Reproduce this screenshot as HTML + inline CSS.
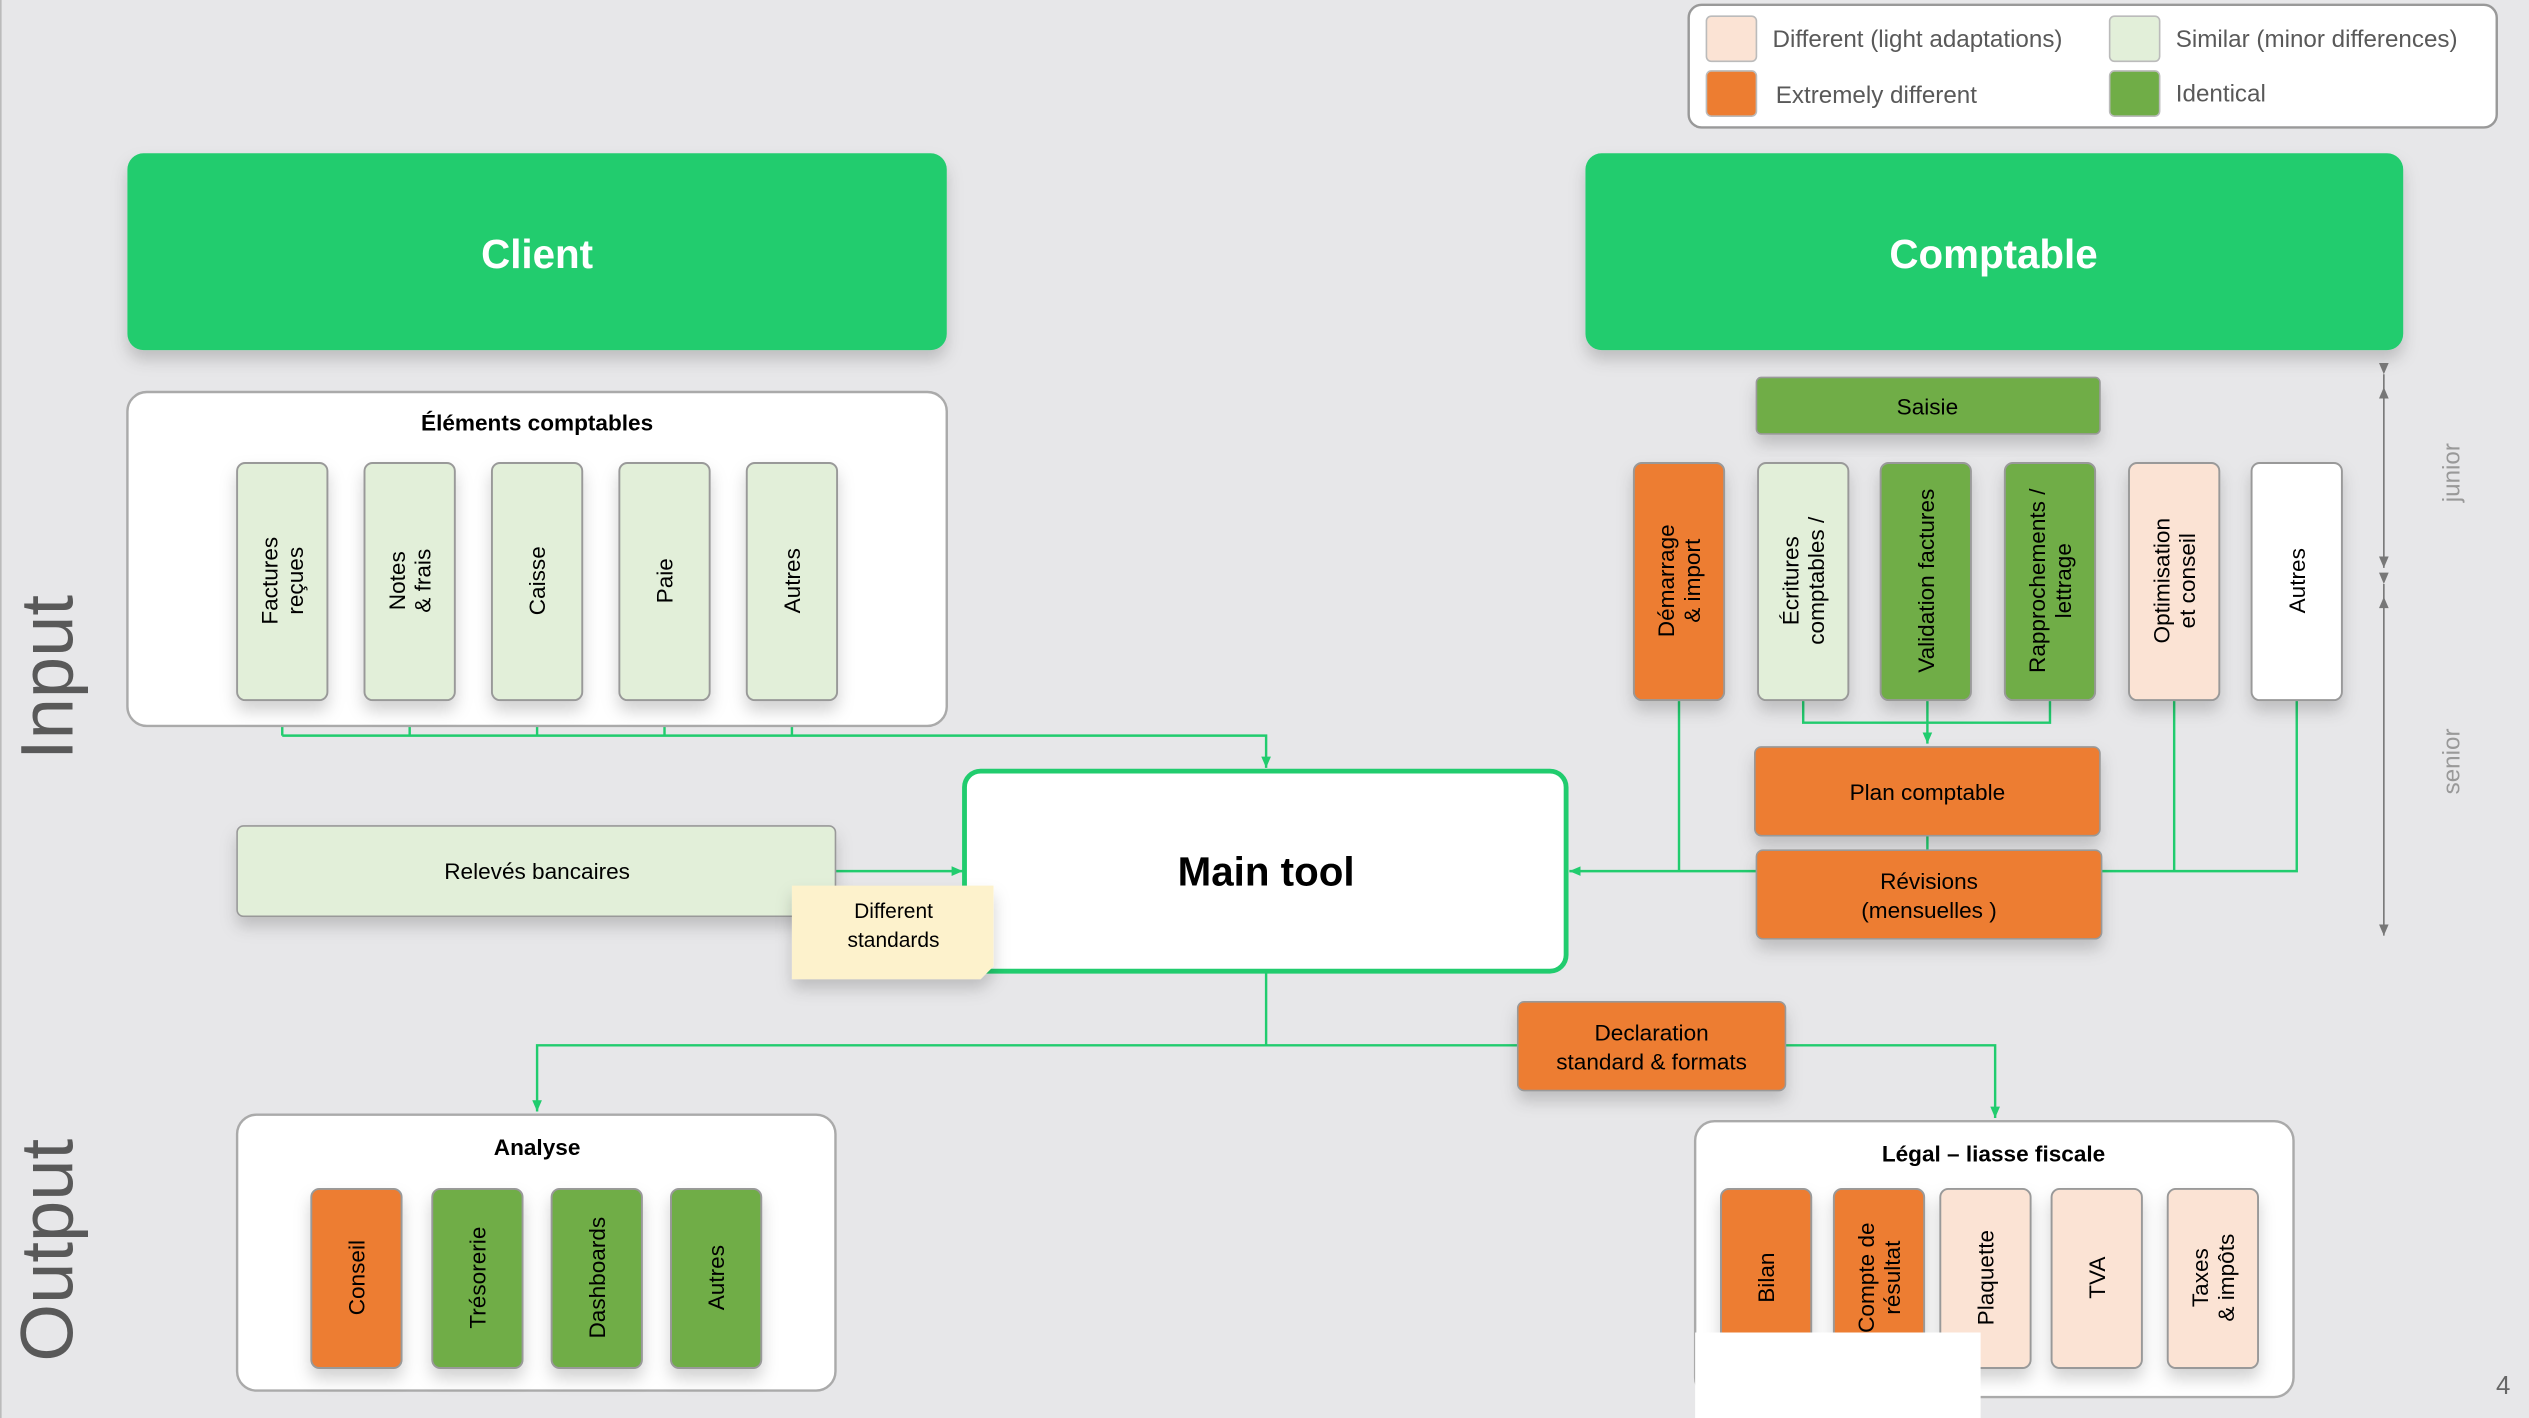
<!DOCTYPE html>
<html><head><meta charset="utf-8"><style>
html,body{margin:0;padding:0;background:#e7e7e9;}
svg{display:block;font-family:"Liberation Sans",sans-serif;}
</style></head><body>
<svg width="2529" height="1418" viewBox="0 0 1568 879" preserveAspectRatio="none" xmlns="http://www.w3.org/2000/svg">
<defs>
<filter id="sh" x="-20%" y="-20%" width="140%" height="160%"><feDropShadow dx="0" dy="6" stdDeviation="5" flood-color="#000" flood-opacity="0.18"/></filter>
<marker id="ar" markerWidth="8" markerHeight="8" refX="7" refY="4" orient="auto" markerUnits="userSpaceOnUse"><path d="M0,1 L7,4 L0,7 z" fill="#21cc6e"/></marker>
<marker id="ag" markerWidth="8" markerHeight="8" refX="7" refY="4" orient="auto" markerUnits="userSpaceOnUse"><path d="M0,1 L7,4 L0,7 z" fill="#777"/></marker>
</defs>
<rect x="0" y="0" width="1568" height="879" fill="#e7e7e9"/>
<line x1="0.5" y1="0" x2="0.5" y2="879" stroke="#bbb"/>

<!-- legend -->
<rect x="1047" y="3" width="501" height="76" rx="8" fill="#fff" stroke="#999" stroke-width="1.5"/>
<rect x="1058" y="10" width="31" height="28" rx="3" fill="#fbe3d4" stroke="#bbb"/>
<rect x="1308" y="10" width="31" height="28" rx="3" fill="#e2efd9" stroke="#bbb"/>
<rect x="1058" y="44" width="31" height="28" rx="3" fill="#ed7d31" stroke="#bbb"/>
<rect x="1308" y="44" width="31" height="28" rx="3" fill="#70ad47" stroke="#bbb"/>
<g fill="#595959" font-size="15">
<text x="1099" y="29">Different (light adaptations)</text>
<text x="1349" y="29">Similar (minor differences)</text>
<text x="1101" y="64">Extremely different</text>
<text x="1349" y="63">Identical</text>
</g>

<!-- headers -->
<rect x="79" y="95" width="508" height="122" rx="10" fill="#21cc6e" filter="url(#sh)"/>
<text x="333" y="166" font-size="25" font-weight="bold" fill="#fff" text-anchor="middle">Client</text>
<rect x="983" y="95" width="507" height="122" rx="10" fill="#21cc6e" filter="url(#sh)"/>
<text x="1236" y="166" font-size="25" font-weight="bold" fill="#fff" text-anchor="middle">Comptable</text>

<!-- side labels -->
<text transform="translate(45,420) rotate(-90)" font-size="46" fill="#595959" text-anchor="middle">Input</text>
<text transform="translate(45,775) rotate(-90)" font-size="46" fill="#595959" text-anchor="middle">Output</text>
<text transform="translate(1525,293) rotate(-90)" font-size="15" fill="#999" text-anchor="middle">junior</text>
<text transform="translate(1525,472) rotate(-90)" font-size="15" fill="#999" text-anchor="middle">senior</text>
<line x1="1478" y1="232" x2="1478" y2="352" stroke="#777" marker-start="url(#ag)" marker-end="url(#ag)"/>
<line x1="1478" y1="362" x2="1478" y2="580" stroke="#777" marker-start="url(#ag)" marker-end="url(#ag)"/>
<path d="M1478,240 L1475,247 L1481,247z M1478,370 L1475,377 L1481,377z" fill="#777"/>

<!-- connectors -->
<g stroke="#21cc6e" stroke-width="1.5" fill="none">
<path d="M175,434 V456 M254,434 V456 M333,434 V456 M412,434 V456 M491,434 V456 M175,456 H785 V476" marker-end="url(#ar)"/>
<path d="M518,540 H597" marker-end="url(#ar)"/>
<path d="M1118,434 V448 H1271 V434 M1195,434 V461" marker-end="url(#ar)"/>
<path d="M1195,518 V527"/>
<path d="M1041,434 V540 M1089,540 H973" marker-end="url(#ar)"/>
<path d="M1303,540 H1424 V434 M1348,434 V540"/>
<path d="M785,602 V648 H333 V689" marker-end="url(#ar)"/>
<path d="M785,648 H1237 V693" marker-end="url(#ar)"/>
</g>

<!-- elements comptables -->
<rect x="79" y="243" width="508" height="207" rx="12" fill="#fff" stroke="#aaa" stroke-width="1.5"/>
<text x="333" y="267" font-size="14" font-weight="bold" text-anchor="middle">Éléments comptables</text>
<g fill="#e2efd9" stroke="#999" stroke-width="1.2" filter="url(#sh)">
<rect x="147" y="287" width="56" height="147" rx="5"/>
<rect x="226" y="287" width="56" height="147" rx="5"/>
<rect x="305" y="287" width="56" height="147" rx="5"/>
<rect x="384" y="287" width="56" height="147" rx="5"/>
<rect x="463" y="287" width="56" height="147" rx="5"/>
</g>
<g font-size="14" text-anchor="middle" fill="#000">
<text transform="translate(175,360) rotate(-90)"><tspan x="0" y="-3">Factures</tspan><tspan x="0" y="13">reçues</tspan></text>
<text transform="translate(254,360) rotate(-90)"><tspan x="0" y="-3">Notes</tspan><tspan x="0" y="13">&amp; frais</tspan></text>
<text transform="translate(333,360) rotate(-90)"><tspan x="0" y="5">Caisse</tspan></text>
<text transform="translate(412,360) rotate(-90)"><tspan x="0" y="5">Paie</tspan></text>
<text transform="translate(491,360) rotate(-90)"><tspan x="0" y="5">Autres</tspan></text>
</g>

<!-- releves -->
<rect x="147" y="512" width="371" height="56" rx="4" fill="#e2efd9" stroke="#999" filter="url(#sh)"/>
<text x="333" y="545" font-size="14" text-anchor="middle">Relevés bancaires</text>

<!-- main tool -->
<rect x="598" y="478" width="373" height="124" rx="10" fill="#fff" stroke="#21cc6e" stroke-width="3"/>
<text x="785" y="549" font-size="25" font-weight="bold" text-anchor="middle">Main tool</text>

<!-- note -->
<path d="M491,549 H616 V599 L608,607 H491 Z" fill="#fdf2cc" filter="url(#sh)"/>
<text x="554" y="569" font-size="13" text-anchor="middle">Different</text>
<text x="554" y="587" font-size="13" text-anchor="middle">standards</text>

<!-- comptable side -->
<rect x="1089" y="234" width="213" height="35" rx="3" fill="#70ad47" stroke="#999" filter="url(#sh)"/>
<text x="1195" y="257" font-size="14" text-anchor="middle">Saisie</text>
<g stroke="#999" stroke-width="1.2" filter="url(#sh)">
<rect x="1013" y="287" width="56" height="147" rx="5" fill="#ed7d31"/>
<rect x="1090" y="287" width="56" height="147" rx="5" fill="#e2efd9"/>
<rect x="1166" y="287" width="56" height="147" rx="5" fill="#70ad47"/>
<rect x="1243" y="287" width="56" height="147" rx="5" fill="#70ad47"/>
<rect x="1320" y="287" width="56" height="147" rx="5" fill="#fbe3d4"/>
<rect x="1396" y="287" width="56" height="147" rx="5" fill="#fff"/>
</g>
<g font-size="14" text-anchor="middle">
<text transform="translate(1041,360) rotate(-90)"><tspan x="0" y="-3">Démarrage</tspan><tspan x="0" y="13">&amp; import</tspan></text>
<text transform="translate(1118,360) rotate(-90)"><tspan x="0" y="-3">Écritures</tspan><tspan x="0" y="13">comptables /</tspan></text>
<text transform="translate(1194,360) rotate(-90)"><tspan x="0" y="5">Validation factures</tspan></text>
<text transform="translate(1271,360) rotate(-90)"><tspan x="0" y="-3">Rapprochements /</tspan><tspan x="0" y="13">lettrage</tspan></text>
<text transform="translate(1348,360) rotate(-90)"><tspan x="0" y="-3">Optimisation</tspan><tspan x="0" y="13">et conseil</tspan></text>
<text transform="translate(1424,360) rotate(-90)"><tspan x="0" y="5">Autres</tspan></text>
</g>
<rect x="1088" y="463" width="214" height="55" rx="4" fill="#ed7d31" stroke="#999" filter="url(#sh)"/>
<text x="1195" y="496" font-size="14" text-anchor="middle">Plan comptable</text>
<rect x="1089" y="527" width="214" height="55" rx="4" fill="#ed7d31" stroke="#999" filter="url(#sh)"/>
<text x="1196" y="551" font-size="14" text-anchor="middle">Révisions</text>
<text x="1196" y="569" font-size="14" text-anchor="middle">(mensuelles )</text>

<rect x="941" y="621" width="166" height="55" rx="4" fill="#ed7d31" stroke="#999" filter="url(#sh)"/>
<text x="1024" y="645" font-size="14" text-anchor="middle">Declaration</text>
<text x="1024" y="663" font-size="14" text-anchor="middle">standard &amp; formats</text>

<!-- analyse -->
<rect x="147" y="691" width="371" height="171" rx="12" fill="#fff" stroke="#aaa" stroke-width="1.5"/>
<text x="333" y="716" font-size="14" font-weight="bold" text-anchor="middle">Analyse</text>
<g stroke="#999" stroke-width="1.2" filter="url(#sh)">
<rect x="193" y="737" width="56" height="111" rx="5" fill="#ed7d31"/>
<rect x="268" y="737" width="56" height="111" rx="5" fill="#70ad47"/>
<rect x="342" y="737" width="56" height="111" rx="5" fill="#70ad47"/>
<rect x="416" y="737" width="56" height="111" rx="5" fill="#70ad47"/>
</g>
<g font-size="14" text-anchor="middle">
<text transform="translate(221,792) rotate(-90)" y="5">Conseil</text>
<text transform="translate(296,792) rotate(-90)" y="5">Trésorerie</text>
<text transform="translate(370,792) rotate(-90)" y="5">Dashboards</text>
<text transform="translate(444,792) rotate(-90)" y="5">Autres</text>
</g>

<!-- legal -->
<rect x="1051" y="695" width="371" height="171" rx="12" fill="#fff" stroke="#aaa" stroke-width="1.5"/>
<text x="1236" y="720" font-size="14" font-weight="bold" text-anchor="middle">Légal – liasse fiscale</text>
<g stroke="#999" stroke-width="1.2" filter="url(#sh)">
<rect x="1067" y="737" width="56" height="111" rx="5" fill="#ed7d31"/>
<rect x="1137" y="737" width="56" height="111" rx="5" fill="#ed7d31"/>
<rect x="1203" y="737" width="56" height="111" rx="5" fill="#fbe3d4"/>
<rect x="1272" y="737" width="56" height="111" rx="5" fill="#fbe3d4"/>
<rect x="1344" y="737" width="56" height="111" rx="5" fill="#fbe3d4"/>
</g>
<g font-size="14" text-anchor="middle">
<text transform="translate(1095,792) rotate(-90)" y="5">Bilan</text>
<text transform="translate(1165,792) rotate(-90)"><tspan x="0" y="-3">Compte de</tspan><tspan x="0" y="13">résultat</tspan></text>
<text transform="translate(1231,792) rotate(-90)" y="5">Plaquette</text>
<text transform="translate(1300,792) rotate(-90)" y="5">TVA</text>
<text transform="translate(1372,792) rotate(-90)"><tspan x="0" y="-3">Taxes</tspan><tspan x="0" y="13">&amp; impôts</tspan></text>
</g>
<rect x="1051" y="826" width="177" height="53" fill="#fff"/>
<text x="1552" y="864" font-size="16" fill="#666" text-anchor="middle">4</text>
</svg>
</body></html>
